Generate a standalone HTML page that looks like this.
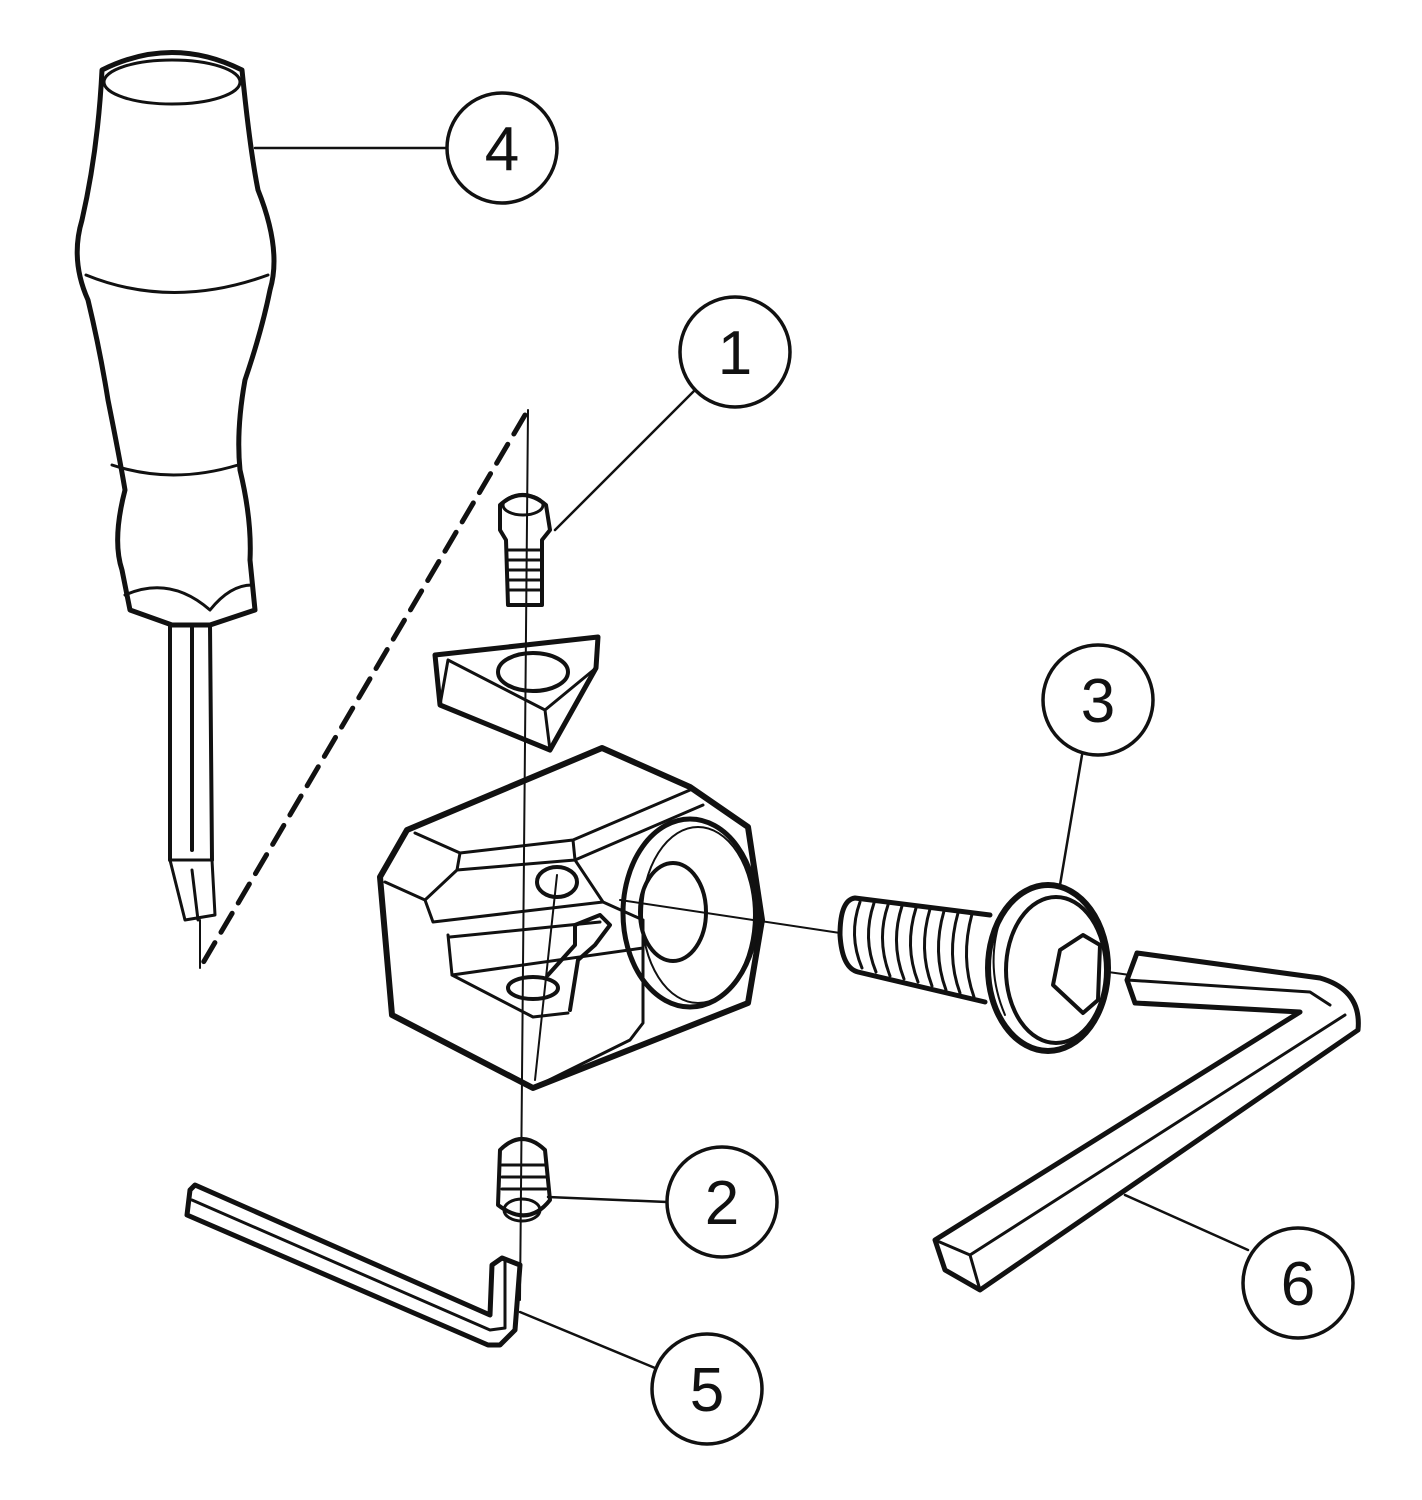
<!DOCTYPE html>
<html><head><meta charset="utf-8"><style>html,body{margin:0;background:#fff}svg{display:block}</style></head>
<body>
<svg width="1422" height="1500" viewBox="0 0 1422 1500" xmlns="http://www.w3.org/2000/svg" fill="none" stroke="#111" stroke-width="4" stroke-linejoin="round" stroke-linecap="round">
<!-- Screwdriver -->
<path d="M102,70 Q172,35 242,70 Q250,150 258,190 Q282,250 270,290 Q262,330 245,380 Q236,430 240,470 Q252,520 250,560 L255,610 L210,625 L172,625 L130,610 L122,570 Q112,540 125,490 Q120,460 108,400 Q100,350 88,300 Q70,260 82,220 Q98,150 102,70 Z" stroke-width="5"/>
<ellipse cx="172" cy="82" rx="68" ry="22" stroke-width="3"/>
<path d="M86,275 Q172,310 268,275" stroke-width="3"/>
<path d="M112,465 Q172,485 238,465" stroke-width="3"/>
<path d="M125,595 Q170,575 210,610 M210,610 Q230,585 252,585" stroke-width="3"/>
<path d="M170,625 L170,860 M210,625 L212,860 M192,625 L192,850" stroke-width="4"/>
<path d="M170,860 L185,920 L215,915 L212,860 Z M192,870 L198,920" stroke-width="3"/>
<line x1="200" y1="920" x2="200" y2="968" stroke-width="2"/>
<line x1="525" y1="415" x2="200" y2="968" stroke-width="5" stroke-dasharray="22,12"/>
<!-- axis lines -->
<line x1="528" y1="410" x2="520" y2="1300" stroke-width="2"/>
<line x1="620" y1="900" x2="840" y2="933" stroke-width="2"/>
<line x1="1108" y1="972" x2="1130" y2="975" stroke-width="2"/>
<!-- Screw 1 -->
<path d="M500,505 Q522,485 546,505 L550,530 L542,540 L542,605 L508,605 L506,540 L500,530 Z" stroke-width="4"/>
<ellipse cx="523" cy="505" rx="20" ry="10" stroke-width="3"/>
<path d="M508,550 h34 M508,560 h34 M508,570 h34 M508,580 h34 M508,590 h34" stroke-width="3"/>
<!-- Insert -->
<path d="M435,655 L598,637 L596,668 L550,750 L440,705 Z" stroke-width="5"/>
<path d="M440,705 L448,660 M550,750 L545,710 M448,660 L545,710 L596,668" stroke-width="3"/>
<ellipse cx="533" cy="672" rx="35" ry="19" stroke-width="4"/>
<!-- Body -->
<path d="M407,830 L602,748 L690,787 L748,827 L762,920 L748,1003 L533,1088 L392,1015 L380,877 Z" stroke-width="6"/>
<path d="M415,833 L460,853 L573,840 L690,790 M460,853 L457,870 L425,900 L385,882 M425,900 L433,922 M457,870 L575,860 L703,805 M573,840 L575,860 L603,902 M433,922 L603,902 L643,920 M448,935 L452,975 M450,937 L600,922 M452,975 L643,948 M452,975 L533,1017 L568,1013 M643,920 L643,1023 L630,1040 L533,1088" stroke-width="3"/>
<ellipse cx="690" cy="913" rx="67" ry="94" stroke-width="5"/>
<ellipse cx="698" cy="915" rx="56" ry="88" stroke-width="2"/>
<ellipse cx="673" cy="912" rx="33" ry="49" stroke-width="4"/>
<ellipse cx="557" cy="882" rx="20" ry="15" stroke-width="4"/>
<ellipse cx="533" cy="988" rx="25" ry="11" stroke-width="4"/>
<path d="M548,975 L575,945 L575,925 L600,915 L610,925 L595,945 L578,960 L570,1010" stroke-width="4"/>
<line x1="557" y1="875" x2="535" y2="1080" stroke-width="2"/>
<!-- Screw 3 -->
<path d="M990,915 L855,898 Q840,900 840,935 Q842,968 858,972 L985,1002" stroke-width="5"/>
<g stroke-width="3">
<path d="M860,902 Q848,935 862,968"/><path d="M874,903 Q862,938 876,972"/><path d="M888,905 Q876,940 890,976"/><path d="M902,906 Q890,943 904,979"/><path d="M916,908 Q904,946 918,982"/><path d="M930,909 Q918,949 932,986"/><path d="M944,911 Q932,952 946,990"/><path d="M958,913 Q946,955 960,993"/><path d="M972,914 Q960,958 974,997"/>
</g>
<ellipse cx="1048" cy="968" rx="60" ry="83" stroke-width="6"/>
<ellipse cx="1056" cy="970" rx="50" ry="73" stroke-width="4"/>
<path d="M1000,920 Q985,968 1005,1015" stroke-width="2"/>
<path d="M1083,935 L1100,945 L1098,1000 L1083,1013 L1053,985 L1060,950 Z" stroke-width="4"/>
<!-- Hex key 6 -->
<path d="M1137,953 L1320,978 Q1362,990 1358,1030 L980,1290 L945,1270 L935,1240 L1300,1012 L1135,1003 L1127,980 Z" stroke-width="5"/>
<path d="M1127,980 L1310,992 L1330,1005 M935,1240 L970,1255 L980,1290 M970,1255 L1345,1015" stroke-width="3"/>
<!-- Set screw 2 -->
<path d="M500,1150 Q522,1128 545,1150 L550,1200 Q528,1228 498,1205 Z" stroke-width="4"/>
<ellipse cx="522" cy="1210" rx="18" ry="11" stroke-width="3"/>
<path d="M502,1165 h44 M502,1177 h44 M502,1189 h44" stroke-width="3"/>
<!-- Hex key 5 -->
<path d="M190,1190 L195,1185 L490,1315 L492,1265 L502,1258 L520,1265 L515,1330 L500,1345 L488,1345 L187,1215 Z" stroke-width="5"/>
<path d="M192,1200 L490,1330 L505,1328 M505,1260 L505,1328" stroke-width="3"/>
<!-- leader lines -->
<g stroke-width="2.5">
<line x1="255" y1="148" x2="447" y2="148"/>
<line x1="555" y1="530" x2="695" y2="390"/>
<line x1="1060" y1="885" x2="1082" y2="755"/>
<line x1="548" y1="1197" x2="667" y2="1202"/>
<line x1="1125" y1="1195" x2="1248" y2="1250"/>
<line x1="520" y1="1312" x2="655" y2="1368"/>
</g>
<!-- callouts -->
<g stroke-width="3.5" fill="#fff">
<circle cx="502" cy="148" r="55"/>
<circle cx="735" cy="352" r="55"/>
<circle cx="1098" cy="700" r="55"/>
<circle cx="722" cy="1202" r="55"/>
<circle cx="1298" cy="1283" r="55"/>
<circle cx="707" cy="1389" r="55"/>
</g>
<g fill="#111" stroke="none" font-family="Liberation Sans, sans-serif" font-size="62" text-anchor="middle">
<text x="502" y="170">4</text>
<text x="735" y="374">1</text>
<text x="1098" y="722">3</text>
<text x="722" y="1224">2</text>
<text x="1298" y="1305">6</text>
<text x="707" y="1411">5</text>
</g>
</svg>
</body></html>
